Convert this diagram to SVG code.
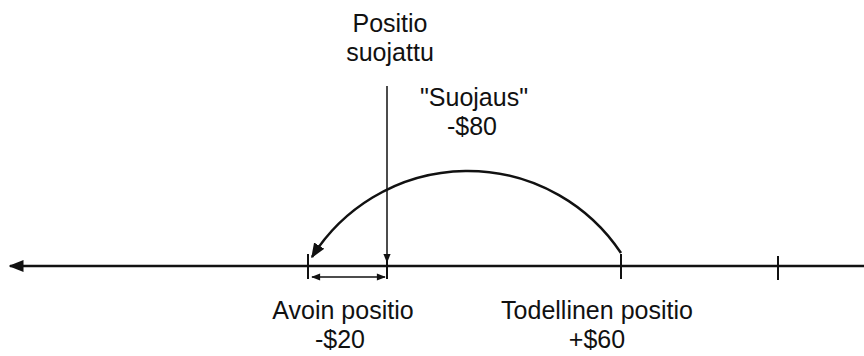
<svg xmlns="http://www.w3.org/2000/svg" width="864" height="356" viewBox="0 0 864 356">
<style>
text{font-family:"Liberation Sans",Arial,sans-serif;font-size:25px;fill:#111;text-anchor:middle}
.ln{stroke:#111;fill:none}
</style>
<defs>
<marker id="ah" viewBox="0 0 10 10" refX="9" refY="5" markerWidth="6" markerHeight="6" markerUnits="strokeWidth" orient="auto">
<path d="M0,1 L10,5 L0,9 z" fill="#111"/>
</marker>
<marker id="ahs" viewBox="0 0 10 10" refX="9" refY="5" markerWidth="8" markerHeight="6" markerUnits="strokeWidth" orient="auto-start-reverse">
<path d="M0,1 L10,5 L0,9 z" fill="#111"/>
</marker>
</defs>
<g id="connectors">
<path class="ln" d="M864,266 L10,266" stroke-width="2.5" marker-end="url(#ah)"/>
<path class="ln" d="M308,254 V279 M387,254 V279 M621,254 V279 M778,256 V280" stroke-width="2"/>
<path class="ln" d="M387,86 V262" stroke-width="1.5" marker-end="url(#ahs)"/>
<path class="ln" d="M312,277 H385" stroke-width="1.5" marker-start="url(#ahs)" marker-end="url(#ahs)"/>
<path class="ln" d="M621,253 A184,184 0 0 0 312,257" stroke-width="2.5" marker-end="url(#ah)"/>
</g>
<g id="hedged"><text x="390" y="32">Positio</text><text x="390" y="61">suojattu</text></g>
<g id="hedge"><text x="474" y="106">"Suojaus"</text><text x="472" y="135">-$80</text></g>
<g id="open"><text x="343" y="319">Avoin positio</text><text x="340" y="348">-$20</text></g>
<g id="actual"><text x="597" y="319">Todellinen positio</text><text x="597" y="348">+$60</text></g>
</svg>
